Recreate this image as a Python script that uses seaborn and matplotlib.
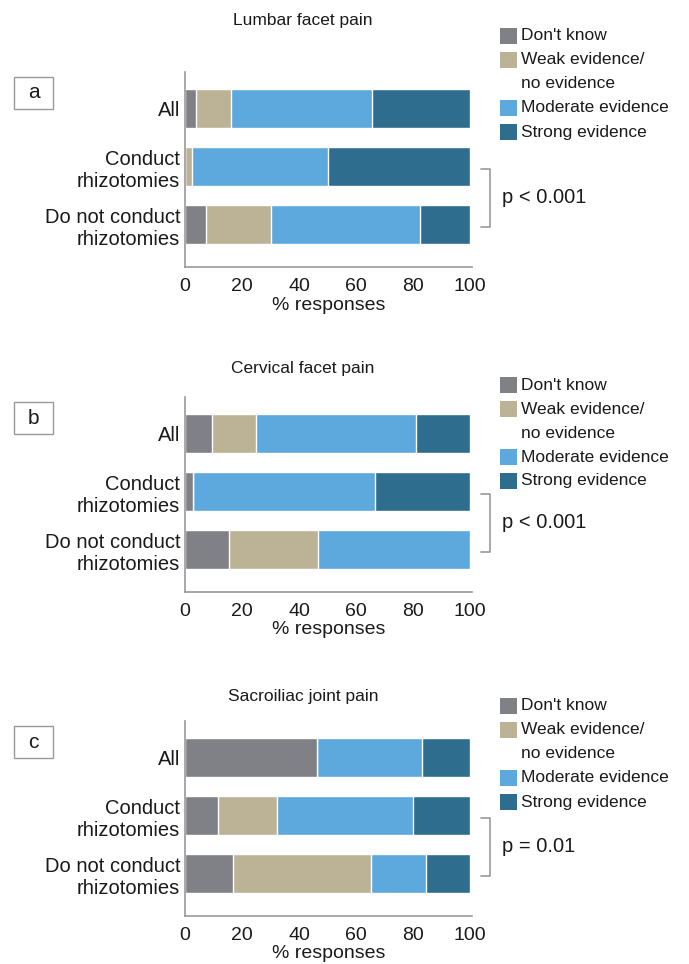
import matplotlib
matplotlib.use('Agg')
import matplotlib.pyplot as plt
import seaborn as sns
import pandas as pd
from matplotlib.patches import Rectangle

sns.set_theme(style='white')
plt.rcParams['font.family'] = ['Liberation Sans', 'DejaVu Sans']

# categories and series (% responses), one list per evidence level, order = groups
groups = ['All', 'Conduct\nrhizotomies', 'Do not conduct\nrhizotomies']
categories = ["Don't know", 'Weak evidence/\nno evidence', 'Moderate evidence', 'Strong evidence']
colors = ['#808186', '#bcb296', '#5da8dc', '#2e6d8e']
titles = ['Lumbar facet pain', 'Cervical facet pain', 'Sacroiliac joint pain']
letters = ['a', 'b', 'c']
p_values = ['p < 0.001', 'p < 0.001', 'p = 0.01']

lumbar_dont_know = [3.7, 0.0, 7.3]
lumbar_weak = [12.3, 2.6, 22.8]
lumbar_moderate = [49.6, 47.4, 52.3]
lumbar_strong = [34.4, 50.0, 17.6]

cervical_dont_know = [9.4, 2.7, 15.3]
cervical_weak = [15.4, 0.0, 31.3]
cervical_moderate = [56.2, 63.9, 53.4]
cervical_strong = [19.0, 33.4, 0.0]

si_dont_know = [46.3, 11.5, 16.7]
si_weak = [0.0, 20.9, 48.5]
si_moderate = [36.8, 47.6, 19.3]
si_strong = [16.9, 20.0, 15.5]

panels = [
    [lumbar_dont_know, lumbar_weak, lumbar_moderate, lumbar_strong],
    [cervical_dont_know, cervical_weak, cervical_moderate, cervical_strong],
    [si_dont_know, si_weak, si_moderate, si_strong],
]

W, H = 689, 964
fig = plt.figure(figsize=(W / 100, H / 100), dpi=100)


def fx(px):
    return px / W


def fy(py):
    return 1 - py / H


axes_top = [72, 397, 721]
title_y = [20, 368, 697]
legend_y = [36, 385, 706]
text_col = '#1a1a1a'
line_col = '#999999'

for i, series in enumerate(panels):
    top = axes_top[i]
    ax = fig.add_axes([fx(185), fy(top + 195), 287 / W, 195 / H])

    rows = []
    for cat, vals in zip(categories, series):
        for g, v in zip(groups, vals):
            rows.append({'group': g, 'category': cat, 'value': v})
    df = pd.DataFrame(rows)
    df['cum'] = df.groupby('group')['value'].cumsum()

    # stacked bars: draw cumulative totals from the last level backwards
    for k in reversed(range(len(categories))):
        sub = df[df['category'] == categories[k]]
        sns.barplot(data=sub, x='cum', y='group', order=groups, color=colors[k],
                    saturation=1, width=0.67, orient='h', errorbar=None, ax=ax)

    ax.set_xlim(0, 100.7)
    ax.set_ylim(2.73, -0.63)
    ax.set_xticks([0, 20, 40, 60, 80, 100])
    ax.tick_params(axis='x', length=0, pad=8, labelsize=14, labelcolor=text_col)
    ax.tick_params(axis='y', length=0, pad=3.5, labelsize=14.5, labelcolor=text_col)
    ax.set_xlabel('% responses', fontsize=14, labelpad=1, color=text_col)
    ax.set_ylabel('')
    sns.despine(ax=ax)
    for s in ['left', 'bottom']:
        ax.spines[s].set_color(line_col)
        ax.spines[s].set_linewidth(1.2)

    # significance bracket
    ax.plot([103.8, 107.1, 107.1, 103.8], [1.04, 1.04, 2.04, 2.04],
            color=line_col, lw=1.2, clip_on=False)
    ax.text(111.1, 1.54, p_values[i], ha='left', va='center', fontsize=14.5,
            color=text_col)

    # title
    fig.text(fx(303), fy(title_y[i]), titles[i], ha='center', va='center',
             fontsize=12.5, color=text_col)

    # panel letter box
    fig.patches.append(Rectangle((fx(14), fy(top + 37)), 39 / W, 32 / H,
                                 transform=fig.transFigure, fill=False,
                                 edgecolor=line_col, lw=1))
    fig.text(fx(33.5), fy(top + 21), letters[i], ha='center', va='center',
             fontsize=15, color=text_col)

    # legend
    entries = [(categories[0], colors[0]), ('Weak evidence/', colors[1]),
               ('no evidence', None), (categories[2], colors[2]),
               (categories[3], colors[3])]
    for r, (lab, col) in enumerate(entries):
        yc = legend_y[i] + 24 * r
        if col is not None:
            fig.patches.append(Rectangle((fx(500), fy(yc + 8)), 17 / W, 16 / H,
                                         transform=fig.transFigure,
                                         facecolor=col, edgecolor='none'))
        fig.text(fx(521), fy(yc), lab, ha='left', va='center', fontsize=12.5,
                 color=text_col)

fig.savefig('out.png', dpi=100)
